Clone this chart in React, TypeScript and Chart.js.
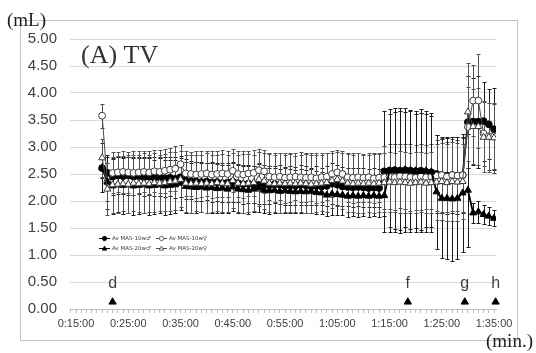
import React, { useEffect, useRef } from "react";
import { Chart, registerables } from "chart.js";

Chart.register(...registerables);

// ---- data ----
const minutes = [
  20, 21, 22, 23, 24, 25, 26, 27, 28, 29,
  30, 31, 32, 33, 34, 35, 36, 37, 38, 39,
  40, 41, 42, 43, 44, 45, 46, 47, 48, 49,
  50, 51, 52, 53, 54, 55, 56, 57, 58, 59,
  60, 61, 62, 63, 64, 65, 66, 67, 68, 69,
  70, 71, 72, 73, 74, 75, 76, 77, 78, 79,
  80, 81, 82, 83, 84, 85, 86, 87, 88, 89,
  90, 91, 92, 93, 94, 95,
];

const seriesLabels = ["Av MAS-10w\u2642", "Av MAS-10w\u2640", "Av MAS-20w\u2642", "Av MAS-20w\u2640"];

const male10 = [
  2.61, 2.52, 2.45, 2.47, 2.46, 2.47, 2.45, 2.46, 2.44, 2.45,
  2.43, 2.44, 2.42, 2.43, 2.41, 2.44, 2.38, 2.37, 2.36, 2.35,
  2.36, 2.34, 2.35, 2.33, 2.34, 2.36, 2.33, 2.31, 2.32, 2.30,
  2.33, 2.30, 2.29, 2.31, 2.30, 2.28, 2.29, 2.28, 2.30, 2.29,
  2.27, 2.28, 2.27, 2.28, 2.32, 2.30, 2.27, 2.26, 2.25, 2.26,
  2.25, 2.24, 2.25, 2.24, 2.55, 2.56, 2.57, 2.56, 2.57, 2.56,
  2.55, 2.56, 2.54, 2.53, 2.50, 2.48, 2.47, 2.48, 2.47, 2.48,
  3.46, 3.47, 3.47, 3.48, 3.42, 3.33,
];
const male10Sd = [
  0.18, 0.30, 0.33, 0.34, 0.33, 0.35, 0.34, 0.33, 0.35, 0.34,
  0.33, 0.35, 0.34, 0.33, 0.35, 0.36, 0.35, 0.34, 0.36, 0.35,
  0.34, 0.36, 0.35, 0.34, 0.36, 0.37, 0.35, 0.36, 0.35, 0.34,
  0.38, 0.36, 0.35, 0.34, 0.36, 0.35, 0.36, 0.35, 0.37, 0.36,
  0.35, 0.36, 0.35, 0.37, 0.38, 0.37, 0.36, 0.35, 0.36, 0.35,
  0.36, 0.35, 0.36, 0.35, 1.12, 1.14, 1.15, 1.16, 1.15, 1.13,
  1.12, 1.14, 1.12, 1.10, 0.72, 0.70, 0.71, 0.70, 0.72, 0.70,
  0.85, 0.80, 0.85, 0.73, 0.65, 0.76,
];

const female10 = [
  3.58, 2.35, 2.52, 2.53, 2.54, 2.53, 2.52, 2.53, 2.54, 2.53,
  2.55, 2.54, 2.56, 2.58, 2.60, 2.68, 2.51, 2.50, 2.49, 2.50,
  2.51, 2.49, 2.50, 2.51, 2.50, 2.56, 2.50, 2.49, 2.51, 2.52,
  2.57, 2.55, 2.45, 2.44, 2.45, 2.43, 2.44, 2.45, 2.44, 2.43,
  2.44, 2.42, 2.44, 2.45, 2.50, 2.53, 2.50, 2.44, 2.43, 2.44,
  2.43, 2.44, 2.42, 2.43, 2.44, 2.45, 2.44, 2.46, 2.45, 2.44,
  2.43, 2.45, 2.44, 2.45, 2.47, 2.48, 2.45, 2.48, 2.47, 2.48,
  3.37, 3.86, 3.86, 3.25, 3.20, 3.20,
];
const female10Sd = [
  0.22, 0.35, 0.38, 0.37, 0.39, 0.38, 0.40, 0.39, 0.38, 0.40,
  0.39, 0.40, 0.41, 0.40, 0.42, 0.35, 0.42, 0.41, 0.43, 0.42,
  0.41, 0.43, 0.42, 0.44, 0.43, 0.40, 0.43, 0.44, 0.42, 0.43,
  0.39, 0.40, 0.44, 0.45, 0.44, 0.46, 0.45, 0.44, 0.46, 0.45,
  0.44, 0.46, 0.45, 0.44, 0.42, 0.41, 0.43, 0.45, 0.46, 0.45,
  0.44, 0.45, 0.46, 0.45, 0.58, 0.60, 0.61, 0.59, 0.60, 0.62,
  0.60, 0.61, 0.59, 0.60, 0.66, 0.68, 0.65, 0.67, 0.66, 0.68,
  0.75, 0.65, 0.87, 0.60, 0.62, 0.60,
];

const male20 = [
  2.62, 2.35, 2.28, 2.30, 2.29, 2.30, 2.28, 2.29, 2.30, 2.28,
  2.29, 2.30, 2.28, 2.29, 2.30, 2.33, 2.27, 2.26, 2.25, 2.26,
  2.24, 2.25, 2.23, 2.24, 2.22, 2.26, 2.22, 2.21, 2.20, 2.22,
  2.24, 2.20, 2.19, 2.20, 2.18, 2.19, 2.18, 2.17, 2.18, 2.17,
  2.18, 2.16, 2.15, 2.11, 2.13, 2.12, 2.11, 2.09, 2.10, 2.09,
  2.10, 2.09, 2.10, 2.09, 2.10, 2.56, 2.57, 2.56, 2.58, 2.57,
  2.56, 2.55, 2.56, 2.54, 2.17, 2.05, 2.05, 2.04, 2.05, 2.15,
  2.20, 1.78, 1.80, 1.75, 1.72, 1.68,
];
const male20Sd = [
  0.45, 0.50, 0.52, 0.51, 0.53, 0.52, 0.54, 0.53, 0.52, 0.54,
  0.53, 0.52, 0.54, 0.53, 0.52, 0.50, 0.50, 0.49, 0.48, 0.47,
  0.46, 0.47, 0.45, 0.46, 0.44, 0.45, 0.44, 0.43, 0.44, 0.43,
  0.44, 0.42, 0.43, 0.42, 0.41, 0.42, 0.41, 0.40, 0.41, 0.40,
  0.41, 0.40, 0.39, 0.38, 0.39, 0.38, 0.37, 0.38, 0.37, 0.38,
  0.37, 0.38, 0.37, 0.38, 0.37, 1.05, 1.08, 1.10, 1.07, 1.09,
  1.06, 1.08, 1.05, 1.03, 1.05, 1.10, 1.12, 1.15, 1.13, 1.10,
  1.05, 0.18, 0.20, 0.17, 0.16, 0.15,
];

const female20 = [
  2.80, 2.22, 2.30, 2.31, 2.32, 2.31, 2.33, 2.32, 2.33, 2.32,
  2.34, 2.33, 2.34, 2.36, 2.37, 2.40, 2.33, 2.32, 2.33, 2.32,
  2.33, 2.32, 2.34, 2.33, 2.32, 2.38, 2.33, 2.32, 2.33, 2.34,
  2.40, 2.37, 2.33, 2.32, 2.33, 2.32, 2.33, 2.32, 2.33, 2.32,
  2.31, 2.32, 2.33, 2.34, 2.38, 2.40, 2.37, 2.33, 2.32, 2.33,
  2.32, 2.33, 2.32, 2.33, 2.34, 2.35, 2.34, 2.35, 2.34, 2.33,
  2.34, 2.35, 2.33, 2.34, 2.35, 2.36, 2.34, 2.36, 2.35, 2.36,
  3.65, 3.38, 3.38, 3.18, 3.18, 3.17,
];
const female20Sd = [
  0.35, 0.48, 0.52, 0.53, 0.51, 0.54, 0.52, 0.53, 0.55, 0.53,
  0.54, 0.52, 0.53, 0.55, 0.54, 0.52, 0.53, 0.54, 0.52, 0.53,
  0.55, 0.53, 0.52, 0.54, 0.53, 0.51, 0.53, 0.55, 0.54, 0.52,
  0.50, 0.52, 0.54, 0.53, 0.55, 0.53, 0.54, 0.52, 0.53, 0.55,
  0.54, 0.53, 0.52, 0.54, 0.51, 0.50, 0.52, 0.54, 0.53, 0.55,
  0.54, 0.53, 0.55, 0.54, 0.55, 0.56, 0.55, 0.57, 0.56, 0.55,
  0.57, 0.56, 0.55, 0.57, 0.70, 0.72, 0.71, 0.73, 0.72, 0.70,
  0.90, 0.70, 0.72, 0.65, 0.64, 0.65,
];

const eventLabels = ["d", "f", "g", "h"];
const eventTimes = [22, 78.5, 89.4, 95.3];
const eventLevel = 0.13;
const eventTextLevel = 0.41;

const yTicks = [0, 0.5, 1, 1.5, 2, 2.5, 3, 3.5, 4, 4.5, 5];

// ---- helpers ----
const fmtTime = (m: number) => `${Math.floor(m / 60)}:${String(m % 60).padStart(2, "0")}:00`;

type Style = { filled: boolean; shape: "circle" | "triangle"; err: string; line: string; lw: number };
const styles: Style[] = [
  { filled: true, shape: "circle", err: "#1a1a1a", line: "#000", lw: 1.8 },
  { filled: false, shape: "circle", err: "#505050", line: "#4a4a4a", lw: 1 },
  { filled: true, shape: "triangle", err: "#1a1a1a", line: "#000", lw: 1.8 },
  { filled: false, shape: "triangle", err: "#505050", line: "#4a4a4a", lw: 1 },
];
const values = [male10, female10, male20, female20];
const sds = [male10Sd, female10Sd, male20Sd, female20Sd];

function drawMarker(ctx: CanvasRenderingContext2D, shape: string, filled: boolean, cx: number, cy: number, r: number) {
  ctx.beginPath();
  if (shape === "circle") {
    ctx.arc(cx, cy, r, 0, Math.PI * 2);
  } else {
    ctx.moveTo(cx, cy - r * 1.1);
    ctx.lineTo(cx + r, cy + r * 0.75);
    ctx.lineTo(cx - r, cy + r * 0.75);
    ctx.closePath();
  }
  ctx.fillStyle = filled ? "#000" : "#fff";
  ctx.fill();
  ctx.lineWidth = 0.8;
  ctx.strokeStyle = filled ? "#000" : "#444";
  ctx.stroke();
}

const errorBarPlugin = {
  id: "errorBars",
  beforeDatasetsDraw(chart: any) {
    const { ctx, scales } = chart;
    const x = scales.x;
    const y = scales.y;
    ctx.save();
    values.forEach((vals, si) => {
      ctx.strokeStyle = styles[si].err;
      ctx.lineWidth = 1;
      ctx.beginPath();
      minutes.forEach((m, i) => {
        const px = Math.round(x.getPixelForValue(m)) + 0.5;
        const top = Math.round(y.getPixelForValue(vals[i] + sds[si][i])) + 0.5;
        const bot = Math.round(y.getPixelForValue(vals[i] - sds[si][i])) + 0.5;
        ctx.moveTo(px, top);
        ctx.lineTo(px, bot);
        ctx.moveTo(px - 2, top);
        ctx.lineTo(px + 2, top);
        ctx.moveTo(px - 2, bot);
        ctx.lineTo(px + 2, bot);
      });
      ctx.stroke();
    });
    ctx.restore();
  },
};

const decorPlugin = {
  id: "decor",
  afterDraw(chart: any) {
    const { ctx, scales } = chart;
    const x = scales.x;
    const y = scales.y;
    ctx.save();
    // outer frame
    ctx.strokeStyle = "#c4c4c4";
    ctx.lineWidth = 1;
    ctx.strokeRect(20.5, 20.5, 497, 320);
    // axis unit labels
    ctx.fillStyle = "#1e1e1e";
    ctx.font = "19px 'Liberation Serif', 'Times New Roman', serif";
    ctx.textAlign = "left";
    ctx.textBaseline = "alphabetic";
    ctx.fillText("(mL)", 7, 26);
    ctx.fillText("(min.)", 486, 347);
    // panel title
    ctx.fillStyle = "#333";
    ctx.font = "26px 'Liberation Serif', 'Times New Roman', serif";
    ctx.fillText("(A) TV", 81, 63);
    // event letters
    ctx.fillStyle = "#404040";
    ctx.font = "16px 'Liberation Sans', Arial, sans-serif";
    ctx.textAlign = "center";
    eventLabels.forEach((lab, i) => {
      ctx.fillText(lab, x.getPixelForValue(eventTimes[i]), y.getPixelForValue(eventTextLevel) + 1);
    });
    // legend
    const area = chart.chartArea;
    const lx = [area.left + 29, area.left + 86];
    const ly = [area.top + 199, area.top + 209];
    ctx.font = "5.5px 'DejaVu Sans', sans-serif";
    ctx.textAlign = "left";
    ctx.textBaseline = "middle";
    seriesLabels.forEach((lab, i) => {
      const cx = lx[i % 2];
      const cy = ly[Math.floor(i / 2)];
      ctx.strokeStyle = styles[i].line;
      ctx.lineWidth = 1;
      ctx.beginPath();
      ctx.moveTo(cx, cy + 0.5);
      ctx.lineTo(cx + 11, cy + 0.5);
      ctx.stroke();
      drawMarker(ctx, styles[i].shape, styles[i].filled, cx + 5.5, cy + 0.5, 2.2);
      ctx.fillStyle = "#404040";
      ctx.fillText(lab, cx + 13, cy + 0.5);
    });
    ctx.restore();
  },
};

export default function App() {
  const ref = useRef<HTMLCanvasElement | null>(null);
  useEffect(() => {
    if (!ref.current) return;
    const datasets: any[] = values.map((vals, si) => ({
      type: "line",
      label: seriesLabels[si],
      data: minutes.map((m, i) => ({ x: m, y: vals[i] })),
      borderColor: styles[si].line,
      borderWidth: styles[si].lw,
      backgroundColor: styles[si].filled ? "#000" : "#fff",
      pointBorderColor: styles[si].filled ? "#000" : "#3a3a3a",
      pointBorderWidth: 1,
      pointStyle: styles[si].shape,
      pointRadius: styles[si].shape === "circle" ? 3.4 : 4,
      tension: 0,
      order: 3 - si,
    }));
    datasets.push({
      type: "scatter",
      label: "events",
      data: eventTimes.map((t) => ({ x: t, y: eventLevel })),
      pointStyle: "triangle",
      pointRadius: 4.2,
      backgroundColor: "#000",
      borderColor: "#000",
      showLine: false,
      clip: false,
      order: -1,
    });
    const chart = new Chart(ref.current, {
      type: "line",
      data: { datasets },
      plugins: [errorBarPlugin, decorPlugin],
      options: {
        animation: false,
        responsive: false,
        events: [],
        layout: { padding: { top: 39, right: 40, left: 0, bottom: 0 } },
        plugins: { legend: { display: false }, tooltip: { enabled: false } },
        scales: {
          x: {
            type: "linear",
            min: 13.85,
            max: 95.38,
            afterBuildTicks: (s: any) => {
              const t: any[] = [];
              for (let m = 14; m <= 95; m++) t.push({ value: m });
              s.ticks = t;
            },
            afterFit: (s: any) => {
              s.height = 44;
            },
            grid: { drawOnChartArea: false, drawTicks: true, tickLength: 4, color: "#bfbfbf" },
            border: { color: "#bfbfbf" },
            ticks: {
              autoSkip: false,
              maxRotation: 0,
              minRotation: 0,
              padding: 4,
              color: "#404040",
              font: { family: "'Liberation Sans', Arial, sans-serif", size: 11 },
              callback: (v: any) => (Number(v) % 10 === 5 ? fmtTime(Number(v)) : ""),
            },
          },
          y: {
            type: "linear",
            min: 0,
            max: 5,
            afterBuildTicks: (s: any) => {
              s.ticks = yTicks.map((v) => ({ value: v }));
            },
            afterFit: (s: any) => {
              s.width = 70;
            },
            grid: { color: "#d9d9d9", drawTicks: false },
            border: { display: false },
            ticks: {
              padding: 13,
              color: "#404040",
              font: { family: "'Liberation Sans', Arial, sans-serif", size: 15 },
              callback: (v: any) => Number(v).toFixed(2),
            },
          },
        },
      },
    });
    return () => chart.destroy();
  }, []);
  return (
    <div style={{ position: "absolute", left: 0, top: 0, width: 536, height: 353, background: "#fff" }}>
      <canvas ref={ref} width={536} height={353} />
    </div>
  );
}
